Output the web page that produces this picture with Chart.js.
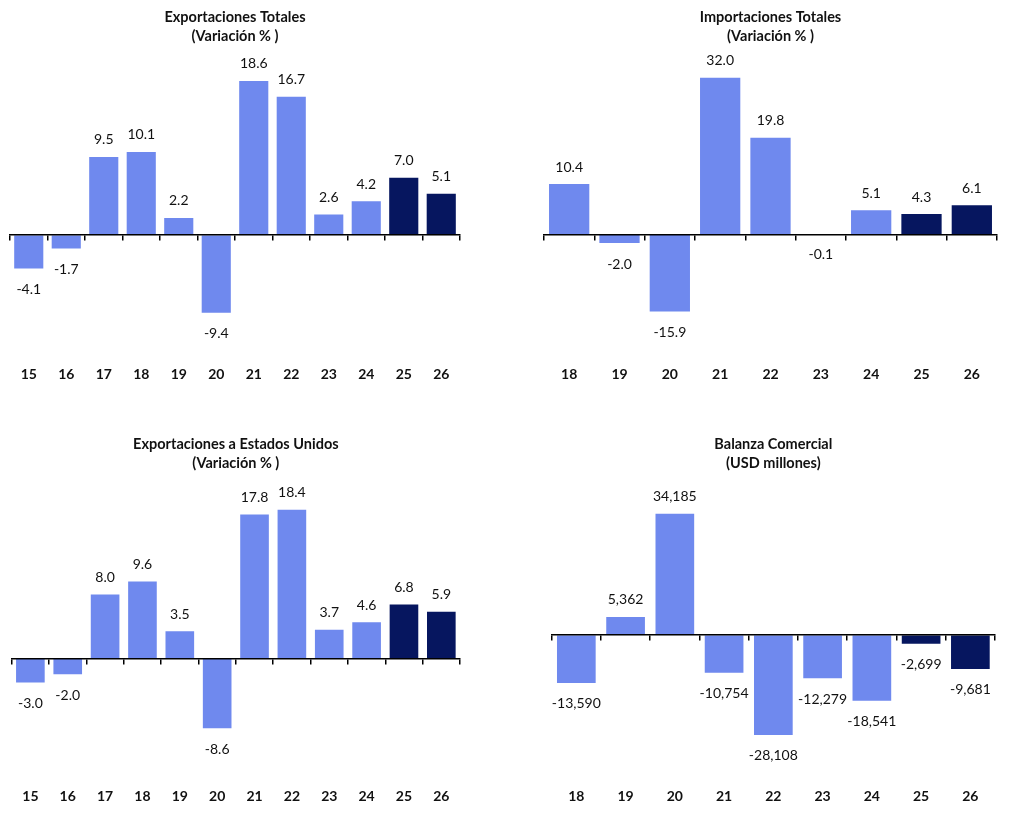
<!DOCTYPE html>
<html>
<head>
<meta charset="utf-8">
<script src="https://cdn.jsdelivr.net/npm/chart.js@4.4.1/dist/chart.umd.min.js"></script>
<style>
  html, body { margin: 0; padding: 0; background: #ffffff; overflow: hidden; }
  #wrap { position: relative; width: 1022px; height: 818px; background: #ffffff; }
  canvas { position: absolute; }
</style>
</head>
<body>
<div id="wrap">
  <canvas id="c1" width="480" height="410" style="left:0px;top:0px"></canvas>
  <canvas id="c2" width="501" height="410" style="left:522px;top:0px"></canvas>
  <canvas id="c3" width="480" height="408" style="left:0px;top:410px"></canvas>
  <canvas id="c4" width="501" height="408" style="left:522px;top:410px"></canvas>
</div>
<script>
// ---- Data ----
const yearsLong = ['15','16','17','18','19','20','21','22','23','24','25','26'];
const yearsShort = ['18','19','20','21','22','23','24','25','26'];
const forecastYears = ['25','26'];

const exportacionesTotales = [-4.1, -1.7, 9.5, 10.1, 2.2, -9.4, 18.6, 16.7, 2.6, 4.2, 7.0, 5.1];
const importacionesTotales = [10.4, -2.0, -15.9, 32.0, 19.8, -0.1, 5.1, 4.3, 6.1];
const exportacionesEEUU = [-3.0, -2.0, 8.0, 9.6, 3.5, -8.6, 17.8, 18.4, 3.7, 4.6, 6.8, 5.9];
const balanzaComercial = [-13590, 5362, 34185, -10754, -28108, -12279, -18541, -2699, -9681];

const title1 = ['Exportaciones Totales', '(Variación % )'];
const title2 = ['Importaciones Totales', '(Variación % )'];
const title3 = ['Exportaciones a Estados Unidos', '(Variación % )'];
const title4 = ['Balanza Comercial', '(USD millones)'];

// ---- Styles ----
const LIGHT = '#6f89ee';
const DARK = '#06165f';
const FONT = 'Lato, "Open Sans", "DejaVu Sans", sans-serif';
const TICK_SIZE = 14;
const TICK_LH = TICK_SIZE * 1.2;
const X2_HEIGHT = 3 + TICK_LH;

const valueLabels = {
  id: 'valueLabels',
  afterDatasetsDraw(chart, args, opts) {
    const ctx = chart.ctx;
    const meta = chart.getDatasetMeta(0);
    const data = chart.data.datasets[0].data;
    ctx.save();
    ctx.font = '14px ' + FONT;
    ctx.fillStyle = '#111111';
    ctx.textAlign = 'center';
    ctx.textBaseline = 'middle';
    meta.data.forEach((bar, i) => {
      const v = data[i];
      const txt = opts.thousands
        ? v.toLocaleString('en-US')
        : v.toFixed(1);
      const y = v >= 0 ? Math.min(bar.y, bar.base) - 16 : Math.max(bar.y, bar.base) + 20;
      ctx.fillText(txt, bar.x, y);
    });
    ctx.restore();
  }
};

function makeChart(id, labels, values, title, cfg) {
  const canvas = document.getElementById(id);
  const h = canvas.height;
  const titleLH = 19;
  const areaTop = cfg.titleTop + 2 * titleLH + cfg.titleBottom;
  const areaBottom = cfg.yearY - 3 - TICK_LH / 2;
  const padB = h - areaBottom - X2_HEIGHT;
  const colors = labels.map(l => forecastYears.includes(l) ? DARK : LIGHT);
  return new Chart(canvas, {
    type: 'bar',
    data: {
      labels: labels,
      datasets: [{
        data: values,
        backgroundColor: colors,
        borderColor: 'rgba(255,255,255,0.55)',
        borderWidth: 1,
        categoryPercentage: 1.0,
        barPercentage: cfg.barPct,
        xAxisID: 'x',
        yAxisID: 'y'
      }]
    },
    options: {
      responsive: false,
      animation: false,
      devicePixelRatio: 1,
      layout: { padding: { left: cfg.padL, right: cfg.padR, top: 0, bottom: padB } },
      plugins: {
        legend: { display: false },
        tooltip: { enabled: false },
        title: {
          display: true,
          text: title,
          color: '#111111',
          font: { family: FONT, size: 14.5, weight: 'bold', lineHeight: titleLH + 'px' },
          padding: { top: cfg.titleTop, bottom: cfg.titleBottom }
        },
        valueLabels: { thousands: !!cfg.thousands }
      },
      scales: {
        y: {
          display: false,
          min: -(areaBottom - cfg.zeroY) / cfg.pxPerUnit,
          max: (cfg.zeroY - areaTop) / cfg.pxPerUnit
        },
        x: {
          type: 'category',
          position: { y: 0 },
          offset: true,
          grid: {
            display: true,
            offset: true,
            drawOnChartArea: false,
            drawTicks: true,
            tickLength: 5,
            color: '#000000',
            lineWidth: 1.5,
            z: 1
          },
          border: { display: true, color: '#000000', width: 1.5, z: 1 },
          ticks: { display: false }
        },
        x2: {
          type: 'category',
          position: 'bottom',
          labels: labels,
          offset: true,
          grid: { display: false, drawTicks: false },
          border: { display: false },
          ticks: {
            padding: 3,
            color: '#111111',
            font: { family: FONT, size: TICK_SIZE, weight: 'bold', lineHeight: 1.2 },
            maxRotation: 0,
            autoSkip: false
          }
        }
      }
    },
    plugins: [valueLabels]
  });
}

// Panel 1
makeChart('c1', yearsLong, exportacionesTotales, title1, {
  padL: 10, padR: 20, titleTop: 7.5, titleBottom: 9.5,
  zeroY: 237, yearY: 377, pxPerUnit: 8.43, barPct: 0.83
});
// Panel 2
makeChart('c2', yearsShort, importacionesTotales, title2, {
  padL: 22, padR: 26, titleTop: 7.5, titleBottom: 9.5,
  zeroY: 236, yearY: 377, pxPerUnit: 4.97, barPct: 0.84
});
// Panel 3 (coordinates relative to canvas top at 410)
makeChart('c3', yearsLong, exportacionesEEUU, title3, {
  padL: 11.7, padR: 20, titleTop: 24.5, titleBottom: 10,
  zeroY: 250.7, yearY: 389, pxPerUnit: 8.25, barPct: 0.82
});
// Panel 4
makeChart('c4', yearsShort, balanzaComercial, title4, {
  padL: 29.7, padR: 28, titleTop: 24.5, titleBottom: 10,
  zeroY: 226.7, yearY: 389, pxPerUnit: 0.00362, barPct: 0.826, thousands: true
});
</script>
</body>
</html>
